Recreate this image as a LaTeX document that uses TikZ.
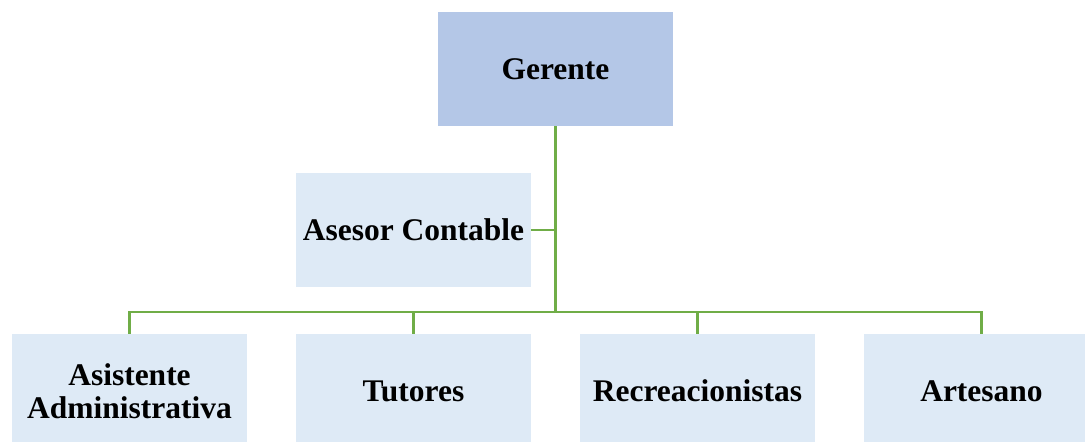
\documentclass[tikz,border=0pt]{standalone}
\usepackage{fontspec}
\setmainfont{Liberation Serif}
\definecolor{topfill}{HTML}{B4C7E7}
\definecolor{boxfill}{HTML}{DEEAF6}
\definecolor{conngreen}{HTML}{70AD47}
\begin{document}
\begin{tikzpicture}[x=1pt,y=-1pt,
  box/.style={rectangle, fill=boxfill, draw=none, minimum width=235pt, minimum height=114pt,
    inner sep=0pt, align=center, font=\fontsize{31.5}{33}\selectfont\bfseries},
  topbox/.style={box, fill=topfill},
  conn/.style={draw=conngreen, line width=2.6pt}]
\useasboundingbox (0,0) rectangle (1085,442);
\clip (0,0) rectangle (1085,442);
\node[topbox] (g) at (555.5,69) {Gerente};
\node[box] (a) at (413.5,230) {Asesor Contable};
\node[box] (b1) at (129.5,391) {Asistente\\Administrativa};
\node[box] (b2) at (413.5,391) {Tutores};
\node[box] (b3) at (697.5,391) {Recreacionistas};
\node[box] (b4) at (981.5,391) {Artesano};
\coordinate (bar) at (555.5,312);
\draw[conn] (g.south) -- (bar);
\draw[conn] (a.east) -- (a.east -| bar);
\draw[conn] (b1.north) |- (bar) -| (b4.north);
\draw[conn] (b2.north) -- (b2.north |- bar);
\draw[conn] (b3.north) -- (b3.north |- bar);
\end{tikzpicture}
\end{document}
